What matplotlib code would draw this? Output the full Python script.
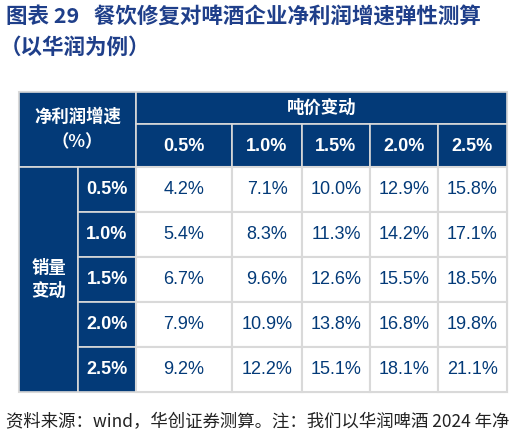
import matplotlib
matplotlib.use("Agg")
import matplotlib.pyplot as plt
from matplotlib.patches import Rectangle

plt.rcParams['font.family'] = ['Liberation Sans', 'Noto Sans CJK SC', 'DejaVu Sans']

title1 = "图表 29   餐饮修复对啤酒企业净利润增速弹性测算"
title2 = "（以华润为例）"
corner = "净利润增速\n（%）"
col_group = "吨价变动"
row_group = "销量\n变动"
col_labels = ["0.5%", "1.0%", "1.5%", "2.0%", "2.5%"]
row_labels = ["0.5%", "1.0%", "1.5%", "2.0%", "2.5%"]
values = [
    ["4.2%", "7.1%", "10.0%", "12.9%", "15.8%"],
    ["5.4%", "8.3%", "11.3%", "14.2%", "17.1%"],
    ["6.7%", "9.6%", "12.6%", "15.5%", "18.5%"],
    ["7.9%", "10.9%", "13.8%", "16.8%", "19.8%"],
    ["9.2%", "12.2%", "15.1%", "18.1%", "21.1%"],
]
footer = "资料来源：wind，华创证券测算。注：我们以华润啤酒 2024 年净"

W, H = 524, 440
fig = plt.figure(figsize=(W/100, H/100), dpi=100)
ax = fig.add_axes([0, 0, 1, 1])
ax.set_xlim(0, W); ax.set_ylim(H, 0); ax.axis('off')

navy = "#033a78"
titlec = "#1f3f8a"
grid = "#d9d9d9"

ax.text(6, 17, title1, fontsize=15.5, fontweight='bold', color=titlec, va='center', family=['Noto Sans CJK SC'])
ax.text(0, 47, title2, fontsize=15.5, fontweight='bold', color=titlec, va='center', family=['Noto Sans CJK SC'])

x0, x1, x2 = 19, 78, 136
cx = [136, 232, 302, 370, 438, 507]
y0, y1, y2 = 92, 124, 167
ry = [167, 212, 257, 302, 347, 392]

def cell(x, y, w, h, fc, ec="white", lw=1.2):
    ax.add_patch(Rectangle((x, y), w, h, facecolor=fc, edgecolor=ec, lw=lw))

ax.add_patch(Rectangle((x0, y0), cx[-1]-x0, ry[-1]-y0, facecolor='white', edgecolor=grid, lw=1.5))
cell(x0, y0, x2-x0, y2-y0, navy, ec=grid)
ax.text((x0+x2)/2, (y0+y2)/2, corner, color='white', fontsize=12.5, fontweight='bold', ha='center', va='center', linespacing=1.5, family=['Noto Sans CJK SC'])
cell(x2, y0, cx[-1]-x2, y1-y0, navy, ec=grid)
ax.text((x2+cx[-1])/2, (y0+y1)/2, col_group, color='white', fontsize=12.5, fontweight='bold', ha='center', va='center', family=['Noto Sans CJK SC'])
for i, lab in enumerate(col_labels):
    cell(cx[i], y1, cx[i+1]-cx[i], y2-y1, navy, ec=grid)
    ax.text((cx[i]+cx[i+1])/2, (y1+y2)/2+1, lab, color='white', fontsize=13, fontweight='bold', ha='center', va='center')
cell(x0, y2, x1-x0, ry[-1]-y2, navy, ec=grid)
ax.text((x0+x1)/2, (y2+ry[-1])/2, row_group, color='white', fontsize=12.5, fontweight='bold', ha='center', va='center', linespacing=1.4, family=['Noto Sans CJK SC'])
for j, lab in enumerate(row_labels):
    cell(x1, ry[j], x2-x1, ry[j+1]-ry[j], navy, ec=grid)
    ax.text((x1+x2)/2, (ry[j]+ry[j+1])/2, lab, color='white', fontsize=13, fontweight='bold', ha='center', va='center')
    for i in range(5):
        cell(cx[i], ry[j], cx[i+1]-cx[i], ry[j+1]-ry[j], 'white', ec=grid, lw=1.5)
        ax.text((cx[i]+cx[i+1])/2, (ry[j]+ry[j+1])/2, values[j][i], color=navy, fontsize=13, ha='center', va='center')

ax.text(6, 422, footer, fontsize=12.5, color='#222222', va='center', style='italic', family=['Noto Sans CJK SC'])

fig.savefig("out.png", dpi=100)
